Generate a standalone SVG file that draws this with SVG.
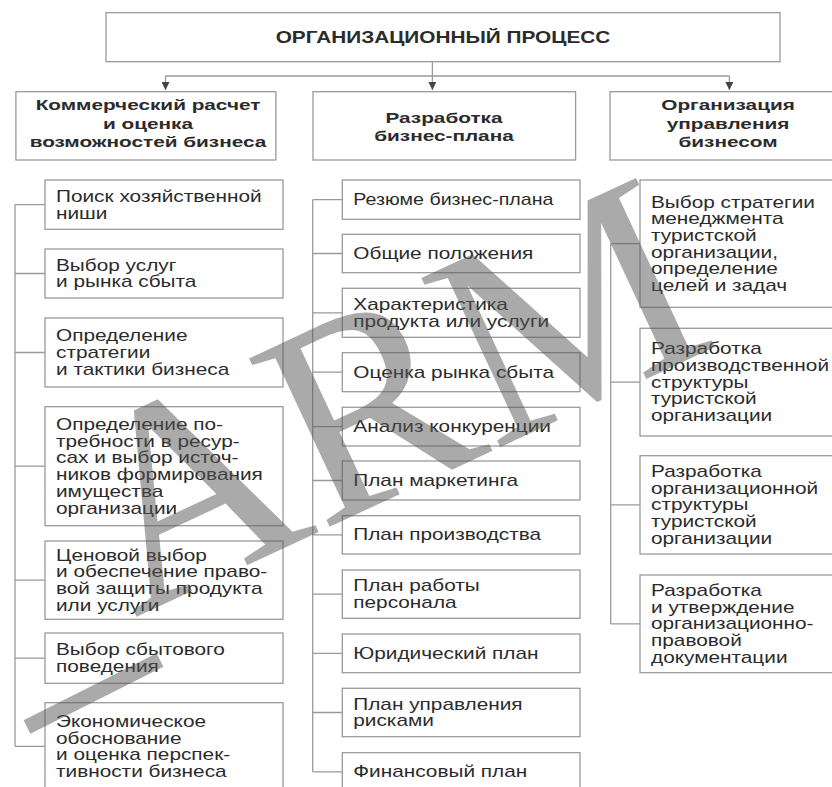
<svg xmlns="http://www.w3.org/2000/svg" width="832" height="787" viewBox="0 0 832 787">
<style>
.box{fill:#fff;stroke:#9a9a9a;stroke-width:1.3}
.ln{fill:none;stroke:#9a9a9a;stroke-width:1.3}
.t{font-family:"Liberation Sans",Arial,sans-serif;font-size:16px;fill:#2b2b2b}
.b{font-weight:bold}
.h{font-size:15.5px}
.c{text-anchor:middle}
.wm{font-family:"Liberation Serif","Times New Roman",serif;font-size:285px;fill:#555;fill-opacity:0.5}
</style>
<defs>
<marker id="ah" viewBox="0 0 8 8" refX="8" refY="4" markerWidth="8" markerHeight="8" markerUnits="userSpaceOnUse" orient="auto">
<path d="M0,0 L8,4 L0,8 z" fill="#444"/>
</marker>
</defs>
<rect width="832" height="787" fill="#fff"/>

<g id="connectors">
<path class="ln" d="M432.4,61.7 V76 M165.5,76 H729.4"/>
<path class="ln" d="M165.5,76 V90" marker-end="url(#ah)"/>
<path class="ln" d="M432.4,76 V90" marker-end="url(#ah)"/>
<path class="ln" d="M729.4,76 V90" marker-end="url(#ah)"/>
<path class="ln" d="M15,204.6 V746.3 M15,204.6 H45 M15,273.5 H45 M15,352.5 H45 M15,466.2 H45 M15,580.2 H45 M15,658.2 H45 M15,746.3 H45"/>
<path class="ln" d="M312.7,199.7 V771.8 M312.7,199.7 H342.3 M312.7,253.5 H342.3 M312.7,312.8 H342.3 M312.7,372.2 H342.3 M312.7,426.7 H342.3 M312.7,480.5 H342.3 M312.7,534.9 H342.3 M312.7,594.2 H342.3 M312.7,653.4 H342.3 M312.7,712.5 H342.3 M312.7,771.8 H342.3"/>
<path class="ln" d="M610.7,243.7 V623.9 M610.7,243.7 H640 M610.7,382.2 H640 M610.7,504.9 H640 M610.7,623.9 H640"/>
</g>

<g id="root">
<rect class="box" x="106" y="12.7" width="674" height="49"/>
<text class="t b c" transform="translate(443,43) scale(1.3,1)">ОРГАНИЗАЦИОННЫЙ ПРОЦЕСС</text>
</g>

<g id="col1-head">
<rect class="box" x="15.9" y="91.7" width="260" height="68.3"/>
<text class="t b c h" transform="translate(148,110) scale(1.34,1)">Коммерческий расчет</text>
<text class="t b c h" transform="translate(148,128.5) scale(1.34,1)">и оценка</text>
<text class="t b c h" transform="translate(148,147) scale(1.34,1)">возможностей бизнеса</text>
</g>
<g id="col2-head">
<rect class="box" x="313" y="91.7" width="262.6" height="68.3"/>
<text class="t b c h" transform="translate(444,122.5) scale(1.34,1)">Разработка</text>
<text class="t b c h" transform="translate(444,141) scale(1.34,1)">бизнес-плана</text>
</g>
<g id="col3-head">
<rect class="box" x="610" y="91.7" width="240" height="68.3"/>
<text class="t b c h" transform="translate(728,110) scale(1.34,1)">Организация</text>
<text class="t b c h" transform="translate(728,128.5) scale(1.34,1)">управления</text>
<text class="t b c h" transform="translate(728,147) scale(1.34,1)">бизнесом</text>
</g>

<g id="l1"><rect class="box" x="45" y="180" width="238" height="49.3"/>
<text class="t" transform="translate(56,201.8) scale(1.3,1)">Поиск хозяйственной</text>
<text class="t" transform="translate(56,218.5) scale(1.3,1)">ниши</text></g>
<g id="l2"><rect class="box" x="45" y="249" width="238" height="49"/>
<text class="t" transform="translate(56,270.7) scale(1.3,1)">Выбор услуг</text>
<text class="t" transform="translate(56,287.4) scale(1.3,1)">и рынка сбыта</text></g>
<g id="l3"><rect class="box" x="45" y="318" width="238" height="69"/>
<text class="t" transform="translate(56,341.3) scale(1.3,1)">Определение</text>
<text class="t" transform="translate(56,358) scale(1.3,1)">стратегии</text>
<text class="t" transform="translate(56,374.7) scale(1.3,1)">и тактики бизнеса</text></g>
<g id="l4"><rect class="box" x="45" y="406.7" width="238" height="119"/>
<text class="t" transform="translate(56,430) scale(1.3,1)">Определение по-</text>
<text class="t" transform="translate(56,446.7) scale(1.3,1)">требности в ресур-</text>
<text class="t" transform="translate(56,463.4) scale(1.3,1)">сах и выбор источ-</text>
<text class="t" transform="translate(56,480) scale(1.3,1)">ников формирования</text>
<text class="t" transform="translate(56,496.8) scale(1.3,1)">имущества</text>
<text class="t" transform="translate(56,513.5) scale(1.3,1)">организации</text></g>
<g id="l5"><rect class="box" x="45" y="541" width="238" height="78.3"/>
<text class="t" transform="translate(56,560.7) scale(1.3,1)">Ценовой выбор</text>
<text class="t" transform="translate(56,577.4) scale(1.3,1)">и обеспечение право-</text>
<text class="t" transform="translate(56,594) scale(1.3,1)">вой защиты продукта</text>
<text class="t" transform="translate(56,610.8) scale(1.3,1)">или услуги</text></g>
<g id="l6"><rect class="box" x="45" y="633" width="238" height="50.3"/>
<text class="t" transform="translate(56,655.4) scale(1.3,1)">Выбор сбытового</text>
<text class="t" transform="translate(56,672) scale(1.3,1)">поведения</text></g>
<g id="l7"><rect class="box" x="45" y="702.7" width="238" height="87.3"/>
<text class="t" transform="translate(56,726.8) scale(1.3,1)">Экономическое</text>
<text class="t" transform="translate(56,743.5) scale(1.3,1)">обоснование</text>
<text class="t" transform="translate(56,760.2) scale(1.3,1)">и оценка перспек-</text>
<text class="t" transform="translate(56,776.9) scale(1.3,1)">тивности бизнеса</text></g>

<g id="m1"><rect class="box" x="342.3" y="180" width="237.7" height="39.3"/>
<text class="t" transform="translate(353.3,205.2) scale(1.3,1)" textLength="154" lengthAdjust="spacingAndGlyphs">Резюме бизнес-плана</text></g>
<g id="m2"><rect class="box" x="342.3" y="234.3" width="237.7" height="38.4"/>
<text class="t" transform="translate(353.3,259) scale(1.3,1)">Общие положения</text></g>
<g id="m3"><rect class="box" x="342.3" y="288.3" width="237.7" height="49"/>
<text class="t" transform="translate(353.3,310) scale(1.3,1)">Характеристика</text>
<text class="t" transform="translate(353.3,326.7) scale(1.3,1)">продукта или услуги</text></g>
<g id="m4"><rect class="box" x="342.3" y="352.7" width="237.7" height="39"/>
<text class="t" transform="translate(353.3,377.7) scale(1.3,1)">Оценка рынка сбыта</text></g>
<g id="m5"><rect class="box" x="342.3" y="407.3" width="237.7" height="38.7"/>
<text class="t" transform="translate(353.3,432.2) scale(1.3,1)">Анализ конкуренции</text></g>
<g id="m6"><rect class="box" x="342.3" y="461" width="237.7" height="39"/>
<text class="t" transform="translate(353.3,486) scale(1.3,1)">План маркетинга</text></g>
<g id="m7"><rect class="box" x="342.3" y="515.7" width="237.7" height="38.3"/>
<text class="t" transform="translate(353.3,540.4) scale(1.3,1)">План производства</text></g>
<g id="m8"><rect class="box" x="342.3" y="570" width="237.7" height="48.3"/>
<text class="t" transform="translate(353.3,591.4) scale(1.3,1)">План работы</text>
<text class="t" transform="translate(353.3,608) scale(1.3,1)">персонала</text></g>
<g id="m9"><rect class="box" x="342.3" y="634" width="237.7" height="38.7"/>
<text class="t" transform="translate(353.3,658.9) scale(1.3,1)">Юридический план</text></g>
<g id="m10"><rect class="box" x="342.3" y="688.3" width="237.7" height="48.4"/>
<text class="t" transform="translate(353.3,709.7) scale(1.3,1)">План управления</text>
<text class="t" transform="translate(353.3,726.4) scale(1.3,1)">рисками</text></g>
<g id="m11"><rect class="box" x="342.3" y="752.7" width="237.7" height="38.3"/>
<text class="t" transform="translate(353.3,777.3) scale(1.3,1)">Финансовый план</text></g>

<g id="r1"><rect class="box" x="640" y="180" width="200" height="127.3"/>
<text class="t" transform="translate(651,207.5) scale(1.3,1)">Выбор стратегии</text>
<text class="t" transform="translate(651,224.2) scale(1.3,1)">менеджмента</text>
<text class="t" transform="translate(651,240.9) scale(1.3,1)">туристской</text>
<text class="t" transform="translate(651,257.6) scale(1.3,1)">организации,</text>
<text class="t" transform="translate(651,274.3) scale(1.3,1)">определение</text>
<text class="t" transform="translate(651,291) scale(1.3,1)">целей и задач</text></g>
<g id="r2"><rect class="box" x="640" y="328.3" width="200" height="107.7"/>
<text class="t" transform="translate(651,354.3) scale(1.3,1)">Разработка</text>
<text class="t" transform="translate(651,371) scale(1.3,1)">производственной</text>
<text class="t" transform="translate(651,387.7) scale(1.3,1)">структуры</text>
<text class="t" transform="translate(651,404.4) scale(1.3,1)">туристской</text>
<text class="t" transform="translate(651,421.1) scale(1.3,1)">организации</text></g>
<g id="r3"><rect class="box" x="640" y="455.7" width="200" height="98.3"/>
<text class="t" transform="translate(651,477) scale(1.3,1)">Разработка</text>
<text class="t" transform="translate(651,493.7) scale(1.3,1)">организационной</text>
<text class="t" transform="translate(651,510.4) scale(1.3,1)">структуры</text>
<text class="t" transform="translate(651,527.1) scale(1.3,1)">туристской</text>
<text class="t" transform="translate(651,543.8) scale(1.3,1)">организации</text></g>
<g id="r4"><rect class="box" x="640" y="575" width="200" height="97.7"/>
<text class="t" transform="translate(651,596) scale(1.3,1)">Разработка</text>
<text class="t" transform="translate(651,612.7) scale(1.3,1)">и утверждение</text>
<text class="t" transform="translate(651,629.4) scale(1.3,1)">организационно-</text>
<text class="t" transform="translate(651,646.1) scale(1.3,1)">правовой</text>
<text class="t" transform="translate(651,662.8) scale(1.3,1)">документации</text></g>

<g id="watermark">
<polygon points="23.6,720.3 156.6,653.3 163.4,666.7 30.4,733.7" fill="#555" fill-opacity="0.5"/>
<text class="wm" transform="translate(134,618) rotate(-25)">ARM</text>
</g>
</svg>
